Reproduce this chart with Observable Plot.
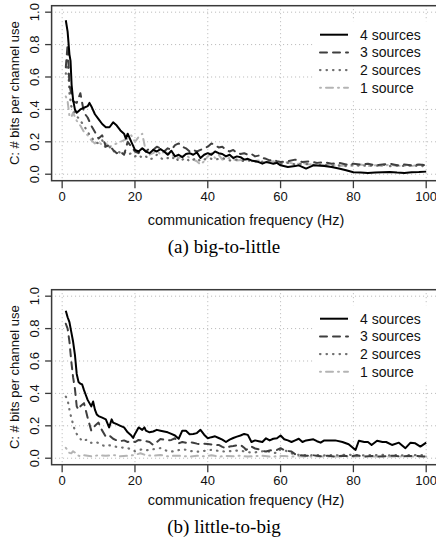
<!DOCTYPE html>
<html><head><meta charset="utf-8">
<script src="https://cdn.jsdelivr.net/npm/d3@7"></script>
<script src="https://cdn.jsdelivr.net/npm/@observablehq/plot@0.6"></script>
<style>
html,body{margin:0;padding:0;background:#fff;}
#root{position:relative;width:436px;height:545px;overflow:hidden;background:#fff;}
.panel{position:absolute;left:0;width:436px;height:232px;}
.panel svg{position:absolute;left:0;top:0;}
.caption{position:absolute;left:6px;width:436px;text-align:center;font-family:"Liberation Serif","Times New Roman",serif;font-size:19px;line-height:20px;color:#000;}
</style></head><body><div id="root"></div>
<script>
// ---------- chart data ----------
const xTicks = [0, 20, 40, 60, 80, 100];
const yTicks = [0, 0.2, 0.4, 0.6, 0.8, 1.0];
const xLabel = "communication frequency (Hz)";
const yLabel = "C: # bits per channel use";
const seriesNames = ["4 sources", "3 sources", "2 sources", "1 source"];
const captions = ["(a) big-to-little", "(b) little-to-big"];

// panel (a) big-to-little: [frequency Hz, bits per channel use]
const bigToLittle4 = [[1,0.95],[1.5,0.88],[2,0.74],[2.3,0.70],[2.6,0.55],[3,0.46],[3.5,0.40],[4,0.38],[5,0.40],[6,0.41],[7,0.42],[7.5,0.44],[8,0.42],[9,0.37],[10,0.34],[11,0.31],[12,0.29],[13,0.29],[14,0.32],[15,0.30],[16,0.27],[17,0.25],[17.5,0.22],[18,0.25],[19,0.20],[20,0.15],[21,0.14],[22,0.16],[23,0.14],[24,0.13],[25,0.15],[26,0.14],[27,0.155],[28,0.14],[29,0.12],[30,0.145],[31,0.11],[32,0.12],[33,0.105],[34,0.125],[35,0.13],[36,0.12],[37,0.135],[38,0.10],[39,0.12],[40,0.13],[41,0.12],[42,0.14],[43,0.13],[44,0.125],[45,0.11],[46,0.12],[47,0.10],[48,0.11],[49,0.105],[50,0.09],[51,0.095],[52,0.085],[53,0.08],[54,0.075],[55,0.065],[56,0.075],[57,0.07],[58,0.065],[59,0.07],[60,0.055],[62,0.045],[64,0.05],[65,0.055],[67,0.035],[69,0.055],[72,0.05],[74,0.045],[76,0.035],[78,0.025],[80,0.012],[82,0.01],[84,0.008],[86,0.01],[88,0.012],[90,0.013],[92,0.01],[94,0.008],[96,0.012],[98,0.013],[100,0.016]];
const bigToLittle3 = [[1,0.66],[1.5,0.80],[2,0.55],[2.5,0.50],[3,0.45],[4,0.44],[5,0.50],[6,0.38],[7,0.35],[8,0.30],[9,0.26],[10,0.22],[11,0.24],[12,0.17],[13,0.18],[14,0.15],[15,0.13],[16,0.14],[17,0.12],[18,0.20],[19,0.17],[20,0.14],[21,0.13],[22,0.16],[23,0.14],[24,0.16],[25,0.15],[26,0.17],[27,0.16],[28,0.14],[29,0.16],[30,0.15],[31,0.18],[32,0.19],[33,0.17],[34,0.16],[35,0.14],[36,0.15],[37,0.14],[38,0.15],[39,0.16],[40,0.17],[41,0.19],[42,0.18],[43,0.165],[44,0.17],[45,0.15],[46,0.14],[47,0.15],[48,0.13],[49,0.125],[50,0.13],[51,0.12],[52,0.125],[53,0.11],[54,0.115],[55,0.10],[56,0.095],[57,0.085],[58,0.09],[59,0.08],[60,0.075],[62,0.08],[64,0.09],[66,0.075],[68,0.08],[70,0.07],[72,0.075],[74,0.065],[76,0.07],[78,0.06],[80,0.065],[82,0.06],[84,0.065],[86,0.055],[88,0.06],[90,0.065],[92,0.055],[94,0.06],[96,0.055],[98,0.06],[100,0.055]];
const bigToLittle2 = [[1,0.62],[1.5,0.72],[2,0.50],[2.5,0.42],[3,0.40],[4,0.36],[5,0.33],[6,0.30],[7,0.26],[8,0.23],[9,0.20],[10,0.19],[11,0.21],[12,0.16],[13,0.17],[14,0.14],[15,0.15],[16,0.13],[17,0.14],[18,0.12],[19,0.13],[20,0.11],[21,0.12],[22,0.10],[23,0.11],[24,0.09],[25,0.10],[26,0.12],[27,0.10],[28,0.09],[29,0.10],[30,0.09],[31,0.11],[32,0.08],[33,0.09],[34,0.10],[35,0.08],[36,0.09],[37,0.10],[38,0.08],[39,0.09],[40,0.10],[42,0.09],[44,0.10],[46,0.085],[48,0.09],[50,0.08],[52,0.085],[54,0.075],[56,0.08],[58,0.07],[60,0.065],[62,0.07],[64,0.06],[66,0.065],[68,0.06],[70,0.055],[72,0.06],[74,0.05],[76,0.055],[78,0.05],[80,0.06],[82,0.05],[84,0.055],[86,0.05],[88,0.06],[90,0.05],[92,0.055],[94,0.05],[96,0.055],[98,0.05],[100,0.05]];
const bigToLittle1 = [[1,0.48],[1.5,0.45],[2,0.36],[2.5,0.35],[3,0.38],[4,0.33],[5,0.30],[6,0.26],[7,0.24],[8,0.21],[9,0.19],[10,0.20],[11,0.18],[12,0.19],[13,0.17],[14,0.18],[15,0.19],[16,0.20],[17,0.21],[18,0.22],[19,0.24],[20,0.20],[21,0.23],[22,0.25],[23,0.14],[24,0.12],[25,0.13],[26,0.15],[27,0.12],[28,0.14],[29,0.13],[30,0.11],[31,0.12],[32,0.10],[33,0.11],[34,0.12],[35,0.10],[36,0.09],[37,0.08],[38,0.06],[39,0.08],[40,0.11],[41,0.13],[42,0.10],[43,0.12],[44,0.09],[46,0.10],[48,0.085],[50,0.09],[52,0.08],[54,0.085],[56,0.07],[58,0.08],[60,0.065],[62,0.075],[64,0.06],[66,0.07],[68,0.06],[70,0.065],[72,0.055],[74,0.06],[76,0.05],[78,0.055],[80,0.05],[82,0.06],[84,0.05],[86,0.055],[88,0.05],[90,0.06],[92,0.05],[94,0.055],[96,0.05],[98,0.06],[100,0.055]];

// panel (b) little-to-big
const littleToBig4 = [[1,0.91],[1.5,0.87],[2,0.84],[2.5,0.78],[3,0.72],[3.5,0.64],[4,0.52],[4.5,0.47],[5,0.46],[5.5,0.455],[6,0.42],[6.5,0.39],[7,0.36],[7.5,0.34],[8,0.32],[8.5,0.35],[9,0.30],[9.5,0.27],[10,0.26],[11,0.25],[12,0.24],[12.9,0.19],[13.6,0.24],[14,0.22],[15,0.21],[16,0.20],[17,0.19],[18,0.16],[19,0.14],[19.5,0.125],[20,0.15],[21,0.19],[22,0.175],[22.6,0.19],[23,0.17],[24,0.16],[25,0.165],[26,0.175],[27,0.17],[28,0.165],[29,0.16],[30,0.15],[31,0.14],[32,0.12],[33,0.17],[34,0.17],[35,0.148],[36,0.15],[37,0.155],[38,0.175],[39,0.145],[40,0.123],[41,0.13],[42,0.135],[43,0.125],[44,0.115],[45,0.10],[46,0.115],[47,0.125],[48,0.133],[49,0.14],[50,0.15],[51,0.144],[52,0.10],[53,0.11],[54,0.105],[55,0.10],[56,0.123],[57,0.11],[58,0.12],[59,0.123],[60,0.14],[61,0.117],[62,0.11],[63,0.10],[64,0.11],[65,0.12],[66,0.10],[67,0.11],[69,0.117],[70,0.105],[71,0.096],[72,0.11],[73,0.11],[75,0.11],[77,0.10],[78.7,0.086],[80.6,0.051],[81.5,0.108],[83,0.10],[84,0.10],[85,0.082],[86.5,0.108],[88,0.10],[89,0.10],[90.6,0.082],[92.5,0.096],[94.3,0.062],[95.7,0.096],[97,0.092],[98.4,0.072],[100,0.096]];
const littleToBig3 = [[1,0.83],[1.5,0.80],[2,0.72],[2.5,0.60],[3,0.50],[3.5,0.43],[4,0.32],[4.5,0.30],[5,0.32],[6,0.34],[7,0.25],[8,0.17],[9,0.20],[10,0.22],[10.5,0.19],[12,0.133],[13,0.14],[14,0.12],[15,0.11],[16,0.105],[17,0.11],[18,0.10],[19,0.105],[20,0.10],[21,0.113],[22,0.11],[23,0.105],[24,0.10],[25,0.082],[26,0.10],[27,0.119],[28,0.115],[29,0.11],[30,0.113],[31,0.123],[32,0.092],[33,0.10],[34,0.095],[35,0.10],[36,0.096],[37,0.09],[38,0.085],[39,0.09],[40,0.088],[41,0.085],[42,0.08],[43,0.082],[44,0.07],[45,0.062],[46,0.072],[47,0.075],[48,0.08],[49,0.082],[50,0.065],[50.5,0.051],[52,0.072],[53,0.06],[54,0.055],[55,0.045],[56,0.041],[57,0.048],[58,0.05],[59,0.051],[60,0.062],[61,0.05],[62,0.045],[63,0.041],[64,0.025],[65,0.02],[67,0.015],[69,0.018],[71,0.012],[73,0.015],[75,0.01],[77,0.015],[79,0.012],[81,0.018],[83,0.01],[85,0.014],[87,0.01],[89,0.012],[91,0.016],[93,0.01],[95,0.013],[97,0.015],[99,0.01],[100,0.012]];
const littleToBig2 = [[1,0.38],[1.5,0.36],[2,0.30],[2.5,0.25],[3,0.21],[3.5,0.17],[4,0.15],[5,0.12],[5.5,0.105],[6,0.11],[7,0.115],[8,0.095],[9,0.10],[10,0.094],[11,0.08],[12,0.074],[13,0.08],[14,0.074],[15,0.07],[16,0.068],[17,0.064],[18,0.062],[19,0.055],[20,0.043],[21,0.05],[22,0.055],[23,0.051],[24,0.048],[25,0.055],[26,0.06],[27,0.062],[28,0.05],[29,0.045],[30,0.041],[31,0.045],[32,0.05],[33,0.055],[34,0.052],[35,0.045],[36,0.042],[37,0.04],[38,0.041],[39,0.045],[40,0.05],[41,0.051],[42,0.048],[43,0.045],[44,0.042],[45,0.041],[46,0.043],[47,0.046],[48,0.047],[49,0.047],[50,0.042],[51,0.038],[52,0.035],[53,0.036],[54,0.04],[55,0.043],[56,0.045],[57,0.04],[58,0.035],[59,0.031],[60,0.055],[61,0.05],[62,0.041],[63,0.03],[64,0.022],[66,0.02],[68,0.018],[70,0.02],[72,0.017],[74,0.02],[76,0.018],[78,0.022],[80,0.02],[82,0.017],[84,0.02],[86,0.019],[88,0.021],[90,0.018],[92,0.02],[94,0.017],[96,0.02],[98,0.018],[100,0.02]];
const littleToBig1 = [[1,0.064],[1.5,0.05],[2,0.033],[2.5,0.03],[3,0.043],[3.5,0.035],[4,0.02],[5,0.012],[6,0.018],[7,0.015],[8,0.012],[10,0.018],[12,0.015],[14,0.02],[16,0.012],[18,0.015],[20,0.02],[21.5,0.031],[23,0.018],[25,0.015],[27,0.02],[29,0.012],[31,0.016],[33,0.014],[35,0.01],[37,0.015],[39,0.012],[41,0.018],[43,0.01],[45,0.014],[47,0.012],[49,0.016],[51,0.01],[53,0.013],[55,0.015],[57,0.01],[59,0.012],[61,0.014],[63,0.01],[65,0.012],[67,0.01],[70,0.012],[73,0.01],[76,0.011],[79,0.01],[82,0.012],[85,0.01],[88,0.011],[91,0.01],[94,0.012],[97,0.01],[100,0.011]];

// ---------- styling ----------
const FONT = "'Liberation Sans', Arial, Helvetica, sans-serif";
const styles = [
  {color: "#000000", dash: null,          width: 2},
  {color: "#3f3f3f", dash: "7,6",         width: 2},
  {color: "#707070", dash: "0.5,6",       width: 2.2},
  {color: "#b4b4b4", dash: "1,5,7,5",     width: 2}
];
const W = 436, H = 232;
const boxTop = 5.2, boxBottom = 180.2;

function makePanel(seriesData, top, caption, captionTop, xLabelDy) {
  const root = document.getElementById("root");
  const div = document.createElement("div");
  div.className = "panel";
  div.style.top = top + "px";
  root.appendChild(div);

  const marks = [
    Plot.gridX(xTicks, {stroke: "#b5b5b5", strokeOpacity: 1, strokeDasharray: "1,3", strokeWidth: 1}),
    Plot.gridY(yTicks, {stroke: "#b5b5b5", strokeOpacity: 1, strokeDasharray: "1,3", strokeWidth: 1}),
    Plot.axisX(xTicks, {tickSize: 8, tickPadding: 3, label: null, fontSize: 13, stroke: "#3a3a3a", strokeWidth: 1.3, fill: "#111"}),
    Plot.axisY(yTicks, {tickSize: 6, label: null, tickFormat: () => "", stroke: "#3a3a3a", strokeWidth: 1.3}),
    Plot.text(yTicks, {y: d => d, text: d => d.toFixed(1), frameAnchor: "left", dx: -16.5, rotate: -90,
      textAnchor: "middle", lineAnchor: "middle", fontSize: 13, fill: "#111"}),
    Plot.text([yLabel], {text: d => d, frameAnchor: "left", dx: -37, rotate: -90,
      textAnchor: "middle", lineAnchor: "middle", fontSize: 13, fill: "#111"}),
    Plot.text([xLabel], {text: d => d, frameAnchor: "bottom", dy: xLabelDy,
      textAnchor: "middle", lineAnchor: "middle", fontSize: 14.5, fill: "#111"})
  ];
  // draw lightest series first so black sits on top
  for (let i = seriesData.length - 1; i >= 0; i--) {
    const s = styles[i];
    marks.push(Plot.line(seriesData[i], {x: d => d[0], y: d => d[1], stroke: s.color,
      strokeWidth: s.width, strokeDasharray: s.dash, strokeLinejoin: "round", strokeLinecap: i === 0 ? "butt" : "round"}));
  }
  marks.push(Plot.frame({stroke: "#3a3a3a", strokeWidth: 1.5}));

  const chart = Plot.plot({
    width: W, height: H,
    marginLeft: 51.1, marginRight: -3.9, marginTop: boxTop, marginBottom: H - boxBottom,
    x: {domain: [-2.9, 103.9]},
    y: {domain: [-0.04, 1.04]},
    style: {fontFamily: FONT, fontSize: "13px", background: "white", color: "#111", overflow: "hidden"},
    marks
  });
  div.appendChild(chart);

  // legend overlay
  const ov = d3.select(div).append("svg").attr("width", W).attr("height", H)
    .style("font-family", FONT);
  ov.append("rect").attr("x", 315).attr("y", boxTop + 16).attr("width", 130).attr("height", 80).attr("fill", "white");
  seriesNames.forEach((name, i) => {
    const y = boxTop + 29.5 + i * 17.7;
    const s = styles[i];
    ov.append("line").attr("x1", 320).attr("x2", 348).attr("y1", y).attr("y2", y)
      .attr("stroke", s.color).attr("stroke-width", s.width)
      .attr("stroke-dasharray", s.dash)
      .attr("stroke-linecap", i === 0 ? "butt" : "round");
    ov.append("text").attr("x", 360).attr("y", y).attr("dy", "0.35em")
      .attr("font-size", 14).attr("fill", "#111").text(name);
  });

  const cap = document.createElement("div");
  cap.className = "caption";
  cap.style.top = captionTop + "px";
  cap.textContent = caption;
  root.appendChild(cap);
}

makePanel([bigToLittle4, bigToLittle3, bigToLittle2, bigToLittle1], 0, captions[0], 237, 40);
makePanel([littleToBig4, littleToBig3, littleToBig2, littleToBig1], 284, captions[1], 517, 36);
</script></body></html>
